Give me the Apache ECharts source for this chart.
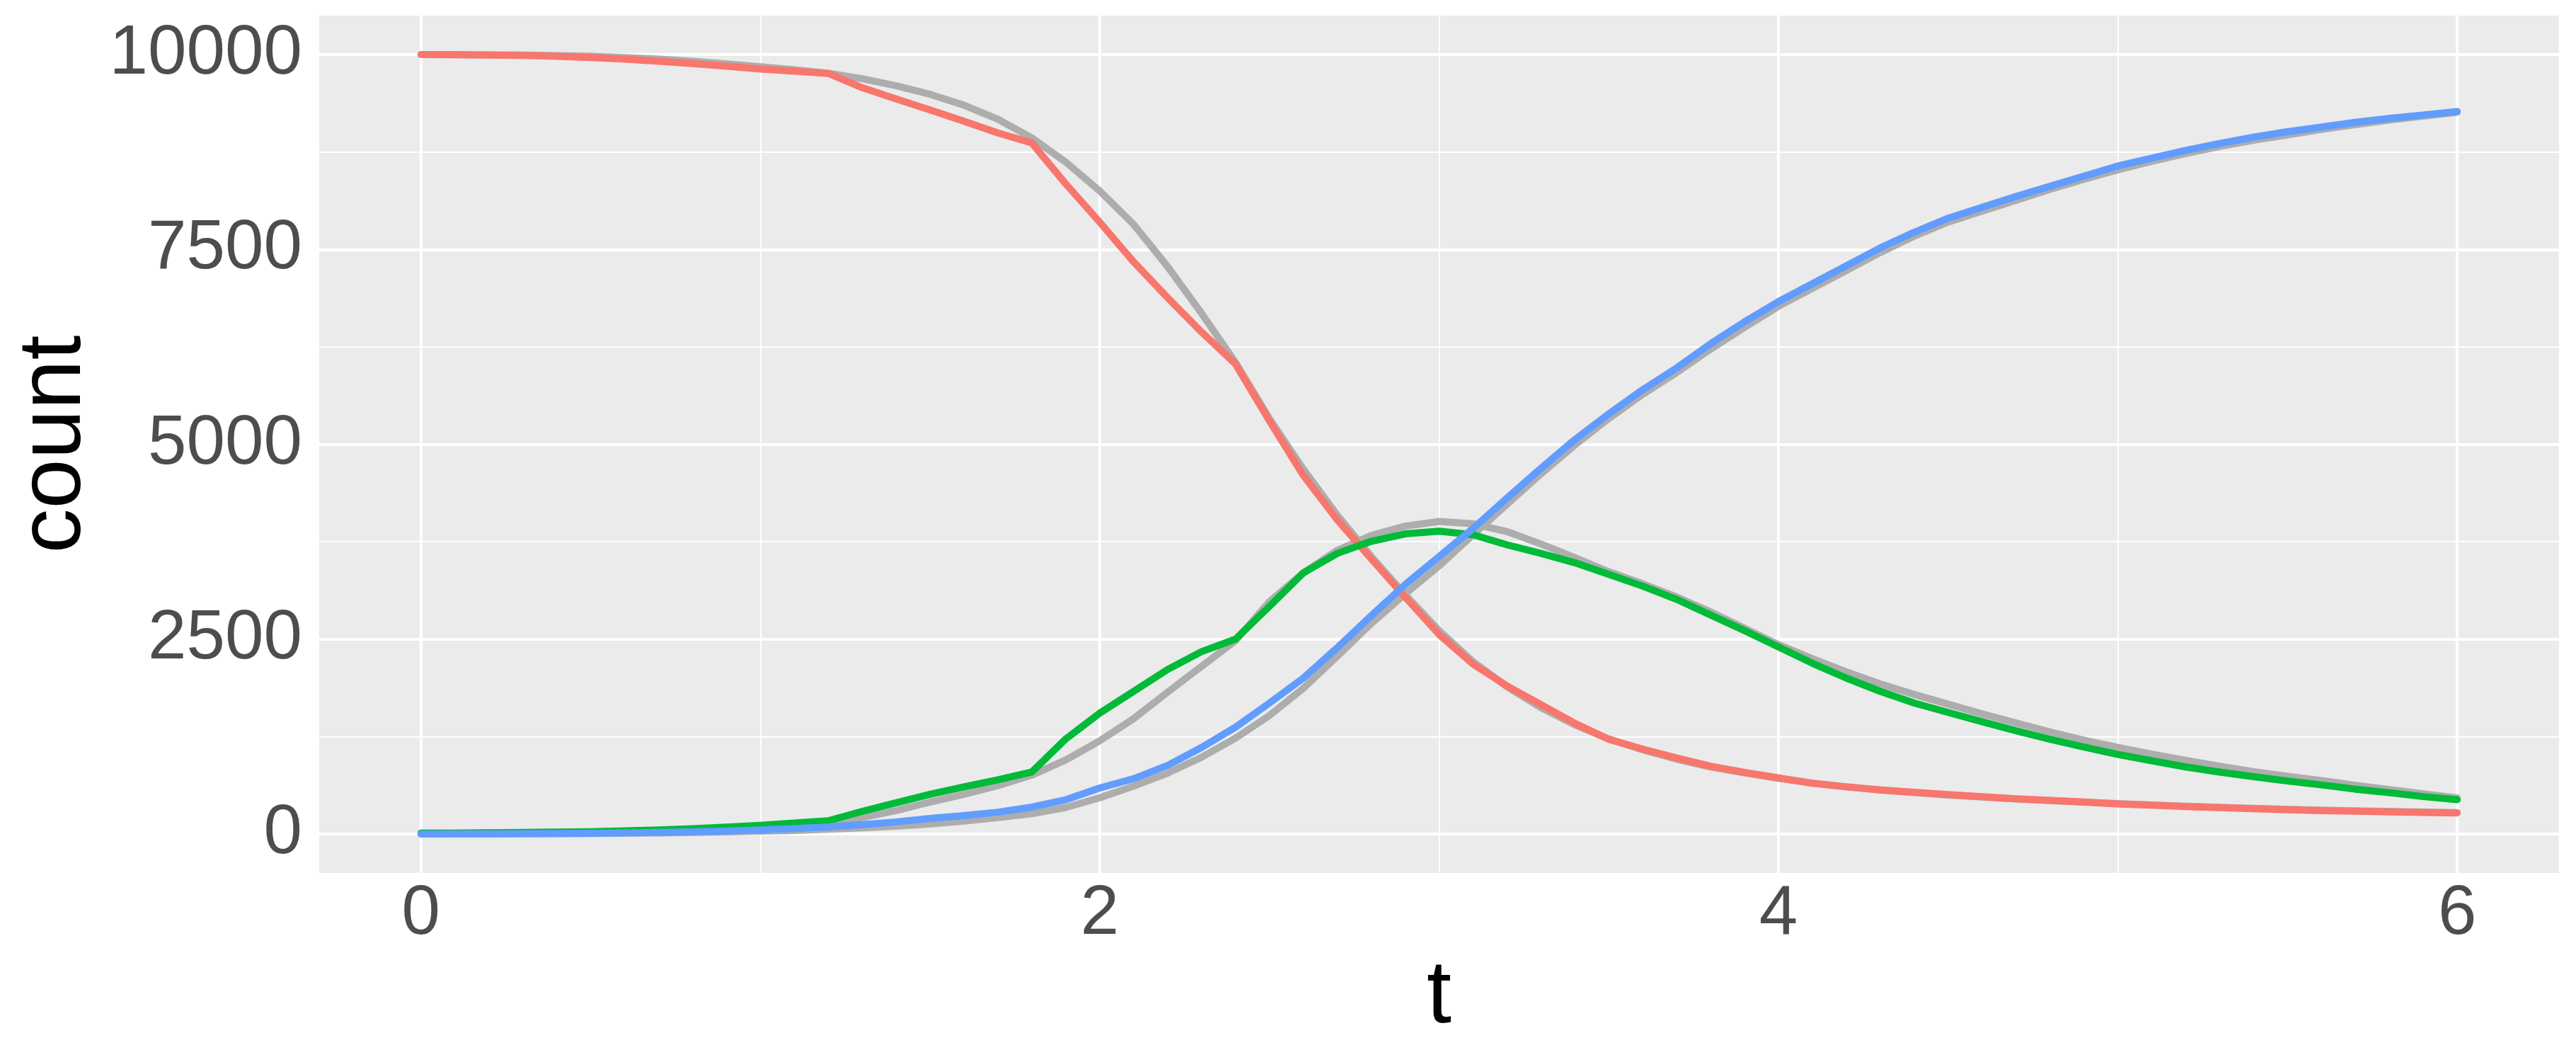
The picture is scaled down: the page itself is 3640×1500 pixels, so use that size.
<!DOCTYPE html>
<html lang="en">
<head>
    <meta charset="UTF-8">
    <title>SIR simulation vs ODE</title>
    <script src="https://cdn.jsdelivr.net/npm/echarts@6/dist/echarts.min.js"></script>
    <style>
        html, body { margin: 0; padding: 0; background: #fff; }
    </style>
</head>
<body>
    <div id="chart" style="width: 3640px; height: 1500px;"></div>
    <script>
        // time points
        const tValues = [0, 0.1, 0.2, 0.3, 0.4, 0.5, 0.6, 0.7, 0.8, 0.9, 1, 1.1, 1.2, 1.3, 1.4, 1.5, 1.6, 1.7, 1.8, 1.9,
            2, 2.1, 2.2, 2.3, 2.4, 2.5, 2.6, 2.7, 2.8, 2.9, 3, 3.1, 3.2, 3.3, 3.4, 3.5, 3.6, 3.7, 3.8, 3.9,
            4, 4.1, 4.2, 4.3, 4.4, 4.5, 4.6, 4.7, 4.8, 4.9, 5, 5.1, 5.2, 5.3, 5.4, 5.5, 5.6, 5.7, 5.8, 5.9, 6];

        // deterministic curves (grey)
        const odeS = [10000, 9999, 9997, 9993, 9987, 9977, 9962, 9942, 9915, 9880, 9845, 9805, 9760, 9690, 9600, 9490, 9350, 9170, 8930, 8620,
            8250, 7820, 7280, 6680, 6050, 5330, 4680, 4090, 3560, 3070, 2610, 2210, 1890, 1620, 1400, 1220, 1080, 960, 860, 785,
            715, 655, 605, 565, 530, 500, 475, 450, 428, 408, 390, 372, 357, 343, 330, 318, 307, 298, 290, 282, 275];
        const odeI = [10, 12, 14, 17, 21, 26, 33, 42, 54, 70, 90, 115, 145, 210, 300, 410, 510, 620, 755, 950,
            1195, 1480, 1820, 2150, 2480, 2980, 3350, 3640, 3830, 3950, 4010, 3980, 3880, 3720, 3545, 3365, 3210, 3040, 2850, 2640,
            2430, 2250, 2080, 1925, 1790, 1665, 1540, 1425, 1310, 1205, 1110, 1025, 945, 870, 800, 740, 685, 625, 570, 515, 463];
        const odeR = [0, 1, 2, 3, 5, 7, 10, 14, 19, 26, 35, 46, 60, 78, 100, 128, 165, 210, 260, 340,
            465, 615, 780, 985, 1230, 1520, 1870, 2280, 2700, 3080, 3440, 3840, 4230, 4620, 4990, 5330, 5640, 5920, 6220, 6500,
            6770, 7000, 7230, 7460, 7670, 7850, 7990, 8130, 8270, 8400, 8520, 8630, 8730, 8820, 8900, 8970, 9040, 9100, 9160, 9210, 9260];

        // stochastic run
        const simS = [10000, 9998, 9994, 9988, 9978, 9962, 9942, 9915, 9885, 9850, 9815, 9788, 9758, 9575, 9430, 9290, 9145, 8995, 8865, 8340,
            7850, 7340, 6880, 6440, 6030, 5300, 4600, 4030, 3530, 3040, 2560, 2180, 1900, 1660, 1420, 1215, 1090, 975, 870, 790,
            720, 650, 605, 565, 535, 505, 478, 452, 432, 410, 385, 370, 352, 338, 325, 310, 300, 292, 283, 277, 270];
        const simI = [10, 12, 15, 19, 24, 30, 40, 52, 68, 88, 112, 140, 170, 290, 400, 510, 605, 695, 795, 1220,
            1550, 1830, 2110, 2340, 2500, 2920, 3350, 3600, 3755, 3850, 3885, 3840, 3710, 3600, 3480, 3330, 3180, 3010, 2810, 2610,
            2400, 2190, 2000, 1830, 1680, 1560, 1440, 1325, 1215, 1115, 1020, 940, 860, 795, 735, 680, 630, 575, 530, 480, 440];
        const simR = [0, 1, 2, 4, 6, 9, 13, 19, 27, 38, 52, 70, 90, 120, 155, 200, 235, 280, 345, 440,
            590, 710, 880, 1110, 1370, 1680, 2000, 2390, 2800, 3200, 3560, 3920, 4310, 4690, 5060, 5390, 5700, 5980, 6290, 6570,
            6830, 7060, 7290, 7520, 7720, 7900, 8040, 8180, 8310, 8440, 8570, 8670, 8770, 8860, 8940, 9010, 9070, 9130, 9180, 9225, 9270];

        const xTicks = [0, 2, 4, 6];
        const xMinor = [1, 3, 5];
        const yTicks = [0, 2500, 5000, 7500, 10000];
        const yMinor = [1250, 3750, 6250, 8750];

        const colors = { S: '#F8766D', I: '#00BA38', R: '#619CFF', ode: '#ADADAD' };
        const font = "'Liberation Sans', Arial, sans-serif";

        const pairs = vals => tValues.map((t, i) => [t, vals[i]]);

        const gridLines = [];
        xTicks.forEach(v => gridLines.push({ xAxis: v, lineStyle: { width: 4 } }));
        xMinor.forEach(v => gridLines.push({ xAxis: v, lineStyle: { width: 2 } }));
        yTicks.forEach(v => gridLines.push({ yAxis: v, lineStyle: { width: 4 } }));
        yMinor.forEach(v => gridLines.push({ yAxis: v, lineStyle: { width: 2 } }));

        function lineSeries(name, vals, color, width, z) {
            return {
                name: name,
                type: 'line',
                data: pairs(vals),
                showSymbol: false,
                symbol: 'none',
                z: z,
                lineStyle: { color: color, width: width, join: 'round', cap: 'round' }
            };
        }

        const chart = echarts.init(document.getElementById('chart'));

        const series = [
            lineSeries('odeS', odeS, colors.ode, 10, 3),
            lineSeries('odeI', odeI, colors.ode, 10, 3),
            lineSeries('odeR', odeR, colors.ode, 10, 3),
            lineSeries('S', simS, colors.S, 10, 4),
            lineSeries('I', simI, colors.I, 10, 5),
            lineSeries('R', simR, colors.R, 10, 6)
        ];
        // panel grid lines
        series[0].markLine = {
            silent: true,
            symbol: ['none', 'none'],
            z: 1,
            animation: false,
            label: { show: false },
            lineStyle: { color: '#FFFFFF', type: 'solid' },
            data: gridLines
        };

        chart.setOption({
            animation: false,
            backgroundColor: '#FFFFFF',
            grid: {
                left: 451,
                right: 24,
                top: 22,
                bottom: 267,
                show: true,
                backgroundColor: '#EBEBEB',
                borderWidth: 0
            },
            xAxis: {
                type: 'value',
                min: -0.3,
                max: 6.3,
                name: 't',
                nameLocation: 'middle',
                nameGap: 106,
                nameTextStyle: { color: '#000000', fontSize: 126, fontFamily: font },
                axisLine: { show: false },
                axisTick: { show: true, customValues: xTicks, length: 11, lineStyle: { color: '#333333', width: 4 } },
                axisLabel: {
                    customValues: xTicks,
                    formatter: v => String(v),
                    color: '#4D4D4D',
                    fontSize: 98,
                    fontFamily: font,
                    margin: 10
                },
                splitLine: { show: false }
            },
            yAxis: {
                type: 'value',
                min: -500,
                max: 10500,
                name: 'count',
                nameLocation: 'middle',
                nameGap: 310,
                nameRotate: 90,
                nameTextStyle: { color: '#000000', fontSize: 126, fontFamily: font },
                axisLine: { show: false },
                axisTick: { show: true, customValues: yTicks, length: 11, lineStyle: { color: '#333333', width: 4 } },
                axisLabel: {
                    customValues: yTicks,
                    formatter: v => String(v),
                    color: '#4D4D4D',
                    fontSize: 98,
                    fontFamily: font,
                    margin: 24
                },
                splitLine: { show: false }
            },
            series: series
        });
    </script>
</body>
</html>
